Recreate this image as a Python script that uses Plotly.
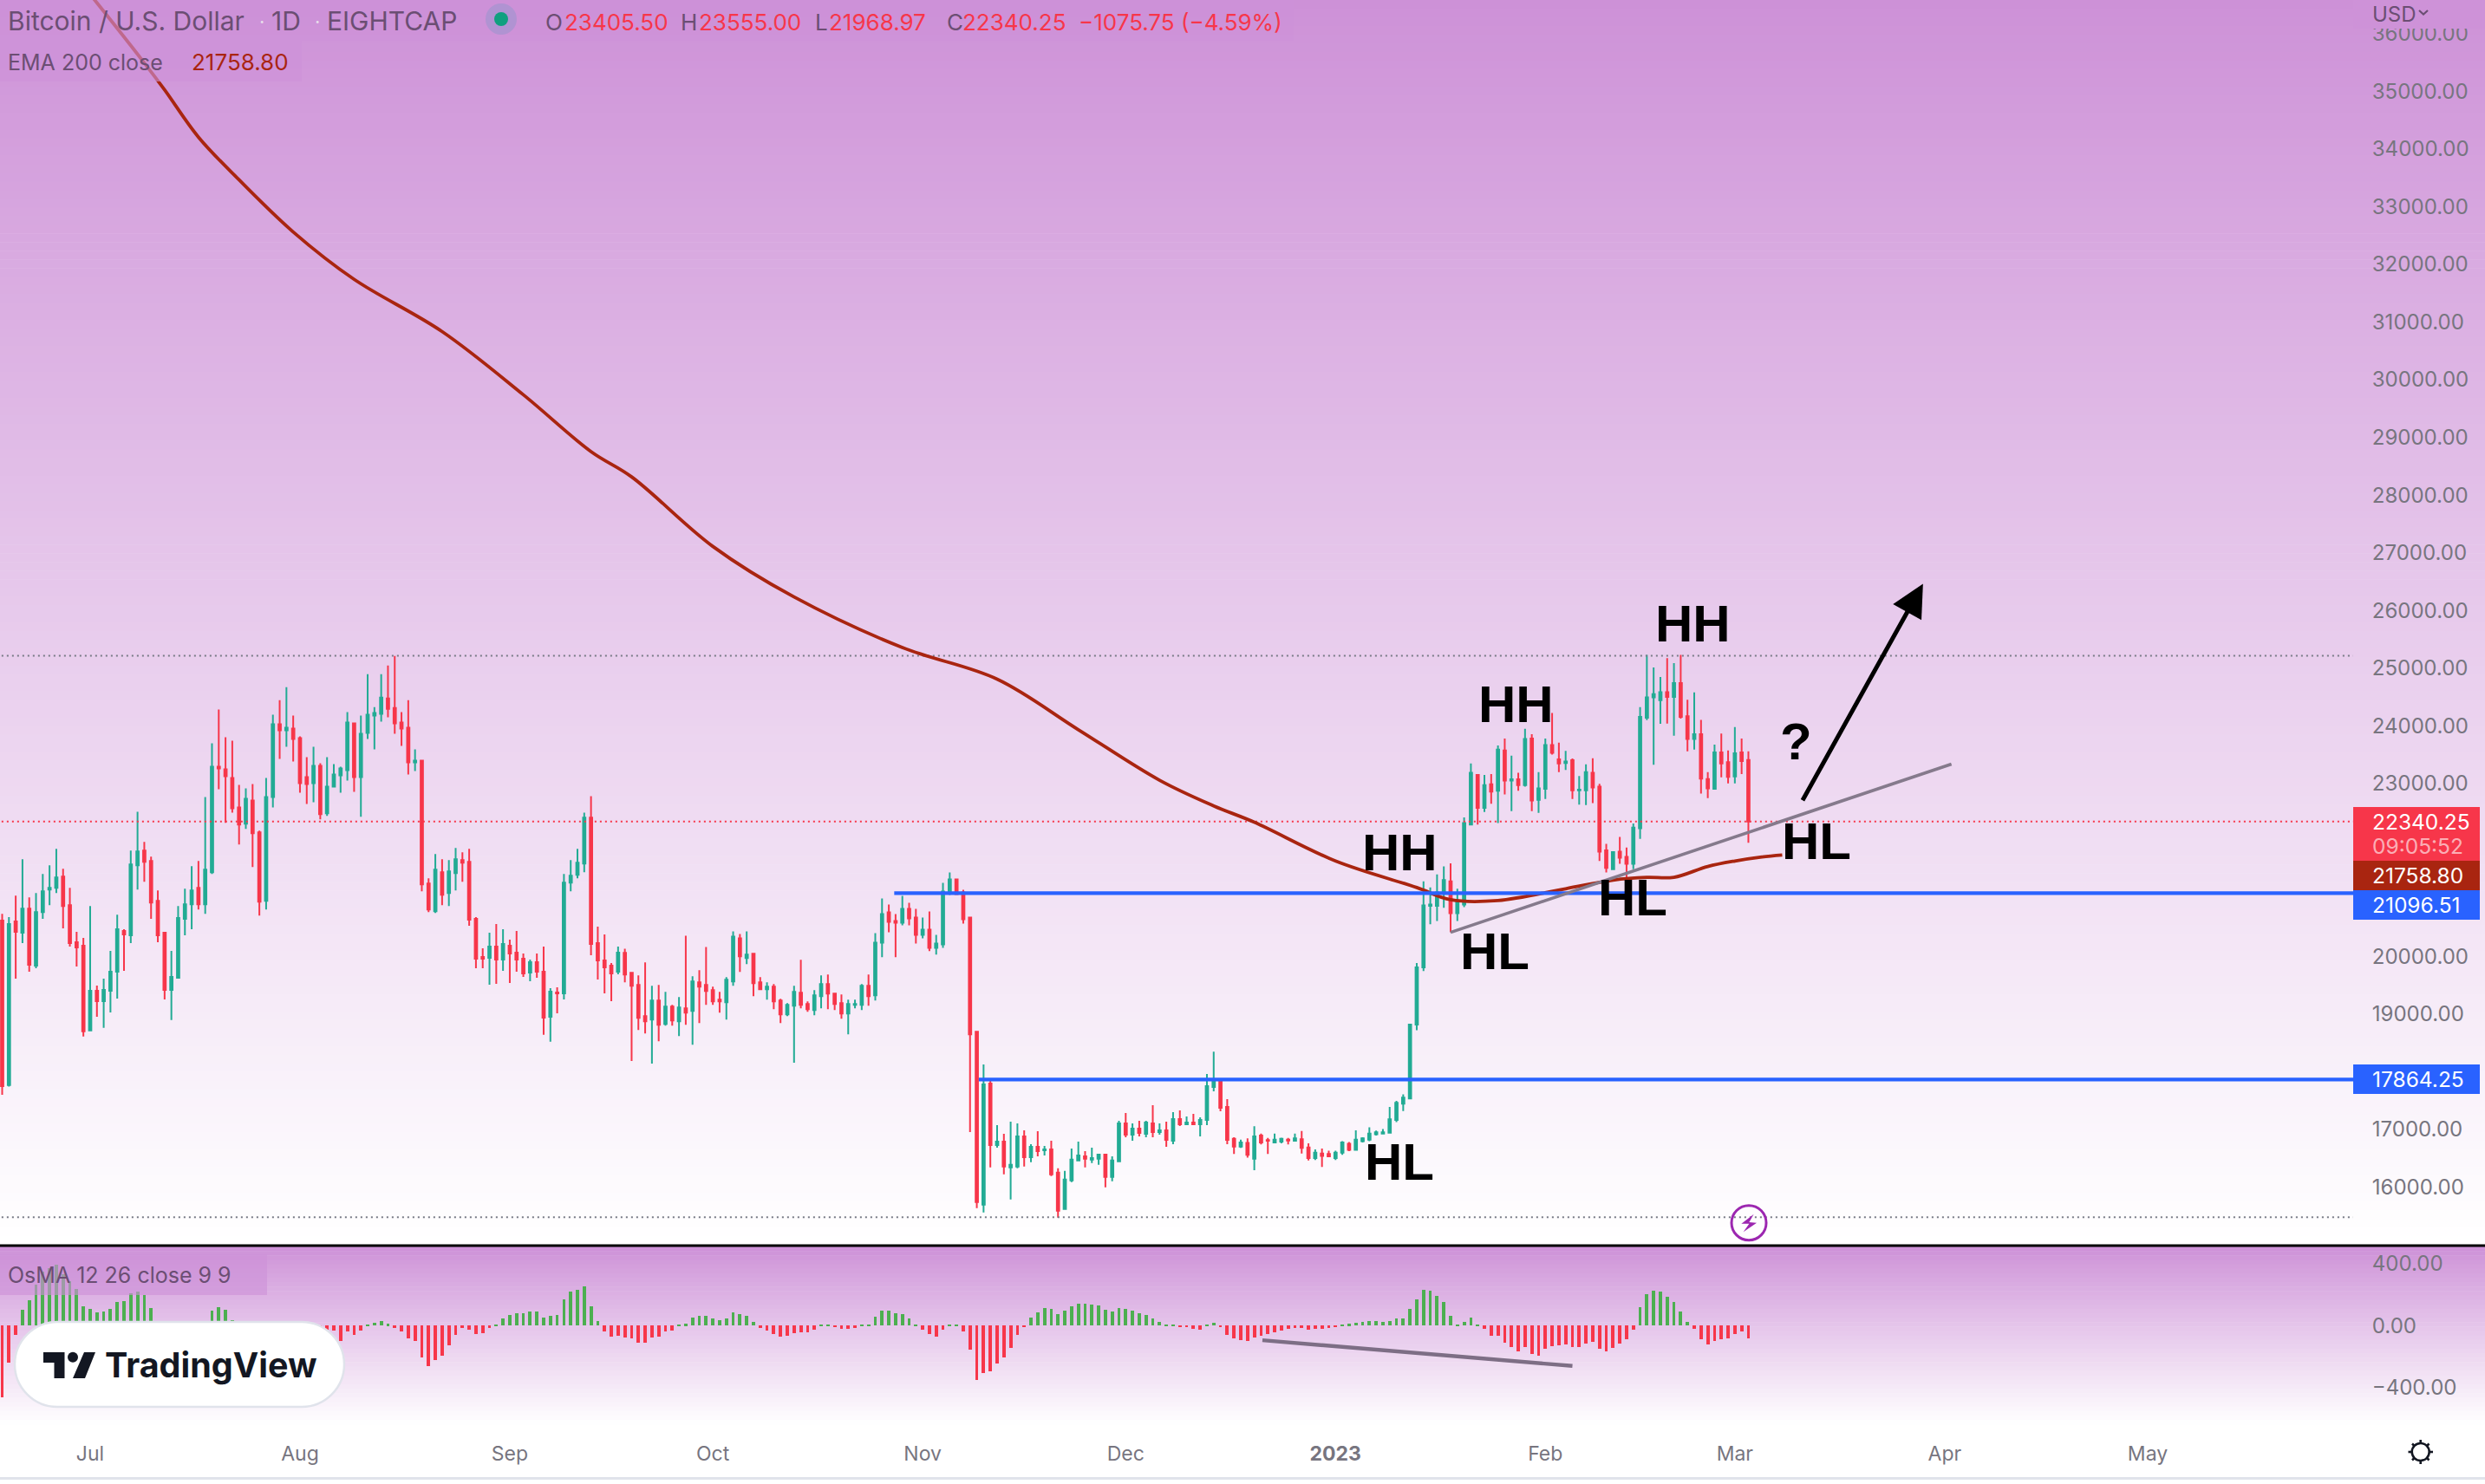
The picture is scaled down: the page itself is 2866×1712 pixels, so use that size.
from datetime import datetime, timedelta
import plotly.graph_objects as go

W, H = 2866, 1712
START = datetime(2022, 7, 1)
FIRST_BAR = datetime(2022, 6, 18)

highs = [
 20740,20680,21055,21685,21025,21100,21430,21580,21865,21520,
 21190,20425,20320,20875,19495,19615,20095,20725,20470,21835,
 22510,21985,21730,21145,20410,20095,20875,21175,21565,21655,
 22765,23695,24280,23800,23740,22975,22915,22990,22180,23095,
 24190,24445,24670,24175,23815,23455,23635,23350,23455,23335,
 23290,24235,24040,24175,24895,24325,24895,25045,25210,24235,
 24445,23590,23410,21355,21775,21685,21670,21880,21805,21865,
 20680,20140,20410,20560,20470,20290,20440,20050,19945,20050,
 20170,19450,19465,21430,21670,21865,22495,22780,20515,20380,
 19885,20170,20135,19715,19670,19895,19490,19505,19385,19160,
 19295,20360,19655,19760,20165,19475,19385,19640,20435,20390,
 20435,20045,19640,19550,19520,19265,19190,19490,19940,19220,
 19415,19670,19685,19370,19340,19250,19250,19520,19685,20405,
 21005,20900,20735,21050,20930,20825,20675,20780,20375,21275,
 21455,21350,21155,20675,18710,18125,17840,17075,16925,17135,
 17105,16985,16745,16970,16715,16805,16325,16280,16670,16790,
 16625,16685,16580,16580,16535,17150,17285,17105,17150,17150,
 17420,17105,17135,17300,17330,17225,17270,17210,17960,18350,
 17855,17525,16865,16823,16844,17056,16929,16851,16929,16858,
 16851,16929,16971,16759,16653,16667,16632,16632,16795,16780,
 16986,16865,17035,16979,17007,17389,17495,17608,18825,19886,
 21301,21195,21422,21563,21613,21174,22412,23346,23162,23148,
 23162,23657,23778,23481,23183,23947,23855,23197,23778,24223,
 23707,23565,23431,23127,23332,23438,22992,21952,21811,22073,
 21889,22306,24322,25228,25009,24846,25171,25086,25228,24450,
 24577,24103,23197,23672,23863,23572,23976,23778,23555]
lows = [
 17600,17745,19615,20230,19735,19795,20650,20890,21100,20485,
 20170,19825,18610,18700,18955,18760,19030,19270,19750,20230,
 21160,21295,20650,20245,19255,18895,19615,20365,20470,20815,
 20740,21430,22900,22315,22495,21940,22210,21550,20710,20815,
 22585,23425,23635,23380,22840,22645,22675,22375,22435,22945,
 22840,23050,22855,22420,23770,23590,24070,24145,23860,23650,
 23155,23215,21130,20770,20755,20890,20875,21145,21295,20530,
 19795,19795,19510,19525,19750,19540,19735,19645,19570,19630,
 18640,18520,19015,19255,21130,21355,21460,20020,19600,19360,
 19225,19690,19550,18185,18725,18665,18140,18530,18800,18800,
 18620,18815,18470,18845,19160,19160,19025,18905,19490,19730,
 19865,19310,19415,19250,19085,18845,18965,18155,19100,19040,
 18980,19100,19085,19070,18920,18650,19100,19070,19145,19235,
 19985,20420,19985,20540,20540,20225,20315,20090,20030,20150,
 21065,21080,20570,16955,15635,15560,16340,16685,16220,15785,
 16325,16355,16430,16535,16550,16190,15470,15605,16085,16445,
 16340,16415,16385,15995,16100,16430,16865,16805,16880,16865,
 16865,16910,16700,16745,17060,17090,17090,16880,17075,17660,
 17315,16745,16575,16681,16512,16292,16738,16575,16759,16759,
 16738,16788,16582,16462,16469,16349,16519,16469,16561,16625,
 16639,16773,16795,16894,16915,16936,17127,17318,17523,18719,
 19745,20559,20615,20842,20417,20615,20856,22285,22285,22504,
 22646,22313,22808,22518,22872,22943,22518,22490,22730,23502,
 23197,23233,22730,22631,22624,22660,21655,21457,21514,21606,
 21372,21514,22037,24096,23325,24032,24039,23827,24124,23558,
 23587,22823,22745,22893,23105,23000,23000,23162,21968.97]
opens = [
 20620,17770,20605,20410,20830,19840,20770,21160,21190,21385,
 20890,20245,20185,18715,19405,19225,19405,19735,20440,20365,
 21580,21835,21655,20965,20410,19420,19630,20650,20905,21190,
 20905,21460,23290,23245,23095,22585,22300,22705,22150,20965,
 22765,24025,23920,23950,23785,23110,23005,23305,22480,22945,
 23140,23230,24040,23110,23875,24175,24205,24475,24310,24055,
 23965,23365,23395,21265,20785,21460,21100,21445,21670,21640,
 20650,19990,19975,20170,19945,20185,20065,19960,19720,19900,
 19735,18955,19375,19360,21280,21415,21610,22405,20230,19930,
 19840,19735,20060,19715,19505,18965,18905,19235,18830,19130,
 18875,19100,19055,19550,19505,19415,19250,19205,19565,20315,
 19970,20045,19550,19430,19475,19235,18995,19145,19370,19175,
 19070,19310,19520,19355,19190,19010,19160,19160,19490,19325,
 20240,20765,20615,20585,20825,20675,20375,20465,20150,20210,
 21095,21335,21110,20675,18695,15695,17795,16730,16790,16340,
 16355,16880,16520,16700,16640,16655,16250,15620,16115,16460,
 16535,16475,16490,16565,16175,16445,17105,16910,17015,16925,
 17105,16955,16985,16805,17180,17090,17120,17090,17165,17735,
 17825,17390,16837,16703,16766,16490,16894,16816,16773,16788,
 16823,16802,16830,16688,16505,16582,16575,16505,16596,16752,
 16646,16795,16823,16915,16929,16943,17163,17446,17537,18818,
 19809,20877,20877,21110,21301,20750,20898,22285,23148,22575,
 22985,22872,23573,23049,23070,22971,23778,22716,22907,23664,
 23417,23353,23403,22879,22879,23183,22943,21839,21514,21818,
 21726,21606,22221,24138,24492,24443,24584,24499,24740,24167,
 23771,23855,23077,22907,23537,23367,23120,23537,23405.5]
closes = [
 17750,20560,20425,20830,19855,20770,21130,21190,21370,20875,
 20230,20155,18700,19405,19225,19420,19735,20470,20380,21595,
 21820,21640,20935,20365,19420,19645,20665,20905,21145,20905,
 21505,23290,23260,23125,22570,22285,22735,22135,20950,22765,
 24025,23920,23965,23770,23005,22990,23305,22465,22945,23155,
 23260,24055,23110,23860,24190,24220,24490,24295,24040,23950,
 23365,23395,21250,20815,21505,21070,21475,21685,21625,20635,
 19960,19960,20170,19945,20215,20050,19945,19705,19900,19735,
 18940,19390,19360,21280,21400,21625,22405,20215,19930,19810,
 19705,20065,19685,19490,18935,18875,19235,18815,19130,18890,
 19115,19025,19565,19475,19400,19220,19220,19595,20345,20000,
 20030,19535,19430,19475,19220,18995,19160,19385,19160,19085,
 19325,19520,19355,19175,19010,19175,19175,19490,19310,20240,
 20735,20600,20585,20825,20660,20375,20465,20150,20225,21125,
 21335,21080,20645,18650,15740,17780,16730,16790,16355,16385,
 16880,16520,16700,16625,16655,16220,15590,16130,16475,16550,
 16490,16505,16565,16175,16460,17105,16910,17015,16940,17120,
 16955,16985,16820,17180,17090,17120,17090,17165,17750,17825,
 17375,16820,16703,16773,16561,16880,16773,16802,16823,16837,
 16809,16844,16681,16505,16596,16540,16533,16596,16773,16646,
 16823,16844,16929,16950,16950,17177,17460,17552,18818,19809,
 20884,20898,21110,21323,20750,20933,22313,23183,22575,22971,
 22858,23587,23049,23070,22971,23771,22702,22914,23664,23530,
 23346,23381,22879,22893,23197,22929,21818,21535,21811,21712,
 21606,22235,24153,24492,24549,24584,24499,24740,24153,23771,
 23855,23084,22914,23537,23346,23113,23523,23389,22340.25]

osma = [
 -466,-240,-62,101,163,263,351,370,392,332,
 285,235,122,107,85,90,107,150,158,207,
 223,197,116,10,-20,-40,-50,-40,-20,5,
 15,94,118,101,32,-5,-15,-25,-25,-30,
 -20,-10,-5,-10,-15,-20,-20,-25,-30,-34,
 -100,-38,-62,-34,8,17,28,11,-15,-38,
 -85,-100,-207,-263,-225,-197,-130,-62,-15,-28,
 -56,-51,-15,9,45,68,79,79,90,90,
 51,62,68,169,220,231,254,124,28,-38,
 -71,-66,-79,-85,-113,-113,-79,-71,-39,-34,
 5,11,51,62,62,45,34,45,85,73,
 62,23,-15,-34,-56,-71,-66,-51,-45,-45,
 -28,4,4,-6,-23,-23,-15,9,9,56,
 96,96,79,73,45,6,-28,-56,-73,-28,
 6,6,-39,-158,-355,-310,-299,-248,-208,-146,
 -62,-11,51,85,113,107,73,96,124,141,
 141,135,130,101,90,113,107,96,79,68,
 45,23,6,6,-6,-11,-23,-28,6,17,
 -11,-62,-85,-96,-101,-79,-68,-56,-45,-34,
 -23,-17,-17,-28,-23,-23,-17,-11,6,11,
 17,23,28,28,23,28,45,45,107,169,
 231,225,192,152,62,6,23,51,6,-23,
 -68,-68,-113,-141,-169,-141,-186,-197,-152,-135,
 -130,-124,-141,-141,-118,-107,-152,-169,-146,-118,
 -90,-28,118,203,225,220,186,152,90,23,
 -23,-90,-124,-101,-90,-84,-56,-39,-84]

ema_days = [-2,1,8,11,16,22,30,39,52,64,74,80,92,104,120,134,146,158,166,172,
            184,196,201,208,218,225,230,234,239,243,247,250]
ema_values = [36970,36536,35494,35027,34207,33467,32563,31741,30836,29740,28754,
              28316,27110,26233,25356,24808,23932,23055,22610,22327,21655,21195,
              20983,20969,21174,21323,21370,21372,21560,21655,21725,21759]

# 22000, 21000 and 18000 sit behind the price labels in the reference
price_ticks = [16000,17000,19000,20000,23000,24000,25000,26000,27000,28000,29000,
               30000,31000,32000,33000,34000,35000,36000]
osc_ticks = [400, 0, -400]
osc_tick_labels = ["400.00", "0.00", "\u2212400.00"]
month_ticks = ["2022-07-01","2022-08-01","2022-09-01","2022-10-01","2022-11-01",
               "2022-12-01","2023-01-01","2023-02-01","2023-03-01","2023-04-01","2023-05-01"]
month_labels = ["Jul","Aug","Sep","Oct","Nov","Dec","<b>2023</b>","Feb","Mar","Apr","May"]

last_close = 22340.25
last_ema = 21758.80
resistance = 21096.51
support = 17864.25
range_high = 25212
range_low = 15476

RED, GREEN = "#F7364A", "#22AB94"
OSC_GREEN = "#4CAF50"
BLUE, EMA = "#2962FF", "#A92510"
GREY, TOP = "#787B86", (205, 144, 215)
AXIS_TXT = "#77757F"
HEAD = "#6B4E73"
FONT = "Inter"
AX_R = 2714
PANE1_B, PANE2_T, PANE2_B = 1436, 1438, 1655


def d(n):
    return START + timedelta(days=n)


def px(x):
    return x / W


def py(y):
    return 1 - y / H


dates = [FIRST_BAR + timedelta(days=i) for i in range(len(opens))]
xr = [d(-13.32), d(334.36)]

fig = go.Figure()
fig.add_trace(go.Candlestick(
    x=dates, open=opens, high=highs, low=lows, close=closes,
    increasing=dict(line=dict(color=GREEN, width=2), fillcolor=GREEN),
    decreasing=dict(line=dict(color=RED, width=2), fillcolor=RED),
    whiskerwidth=0, showlegend=False, xaxis="x", yaxis="y"))


def line(xs, ys, color, width, dash="solid", ya="y", xa="x", shape="linear"):
    fig.add_trace(go.Scatter(x=xs, y=ys, mode="lines", showlegend=False, hoverinfo="skip",
                             line=dict(color=color, width=width, dash=dash, shape=shape), xaxis=xa, yaxis=ya))


line([d(-20), d(340)], [range_high] * 2, GREY, 2, "2px,4px")
line([d(-20), d(340)], [range_low] * 2, GREY, 2, "2px,4px")
line([d(-20), d(340)], [last_close] * 2, RED, 2, "2px,4px")
line([d(n) for n in ema_days], ema_values, EMA, 3.8, shape="spline")
line([d(118.8), d(340)], [resistance] * 2, BLUE, 4.2)
line([d(131.3), d(340)], [support] * 2, BLUE, 4.2)
line([d(201), d(275)], [20417, 23334], "#857A8C", 3.6)

fig.add_trace(go.Bar(x=dates, y=osma, width=3.8 / 7.806 * 86400000,
                     marker=dict(color=[OSC_GREEN if v >= 0 else RED for v in osma], line=dict(width=0)),
                     showlegend=False, xaxis="x2", yaxis="y2"))
line([d(173.2), d(219)], [-96, -263], "#7D6E85", 4.4, ya="y2", xa="x2")

shapes = []
# gradient backgrounds
for (y0, y1, n) in [(0, PANE1_B, 144), (PANE2_T, 1643, 40)]:
    for i in range(n):
        t = ((i + 0.5) / n) ** 0.92
        c = [round(TOP[k] + (255 - TOP[k]) * t) for k in range(3)]
        a, b = y0 + (y1 - y0) * i / n, y0 + (y1 - y0) * (i + 1) / n + 0.6
        shapes.append(dict(type="rect", xref="paper", yref="paper", layer="below",
                           x0=0, x1=1, y0=py(a), y1=py(b), line=dict(width=0),
                           fillcolor=f"rgb({c[0]},{c[1]},{c[2]})"))


def rect(x0, y0, x1, y1, fill, lw=0, lc=None):
    shapes.append(dict(type="rect", xref="paper", yref="paper", layer="above",
                       x0=px(x0), x1=px(x1), y0=py(y0), y1=py(y1),
                       fillcolor=fill, line=dict(width=lw, color=lc)))


def path(points, fill=None, lw=0, lc=None, close=True):
    s = "M " + " L ".join(f"{px(a):.6f},{py(b):.6f}" for a, b in points) + (" Z" if close else "")
    shapes.append(dict(type="path", xref="paper", yref="paper", layer="above", path=s,
                       fillcolor=fill, line=dict(width=lw, color=lc)))


def circle(cx, cy, r, fill=None, lw=0, lc=None):
    shapes.append(dict(type="circle", xref="paper", yref="paper", layer="above",
                       x0=px(cx - r), x1=px(cx + r), y0=py(cy - r), y1=py(cy + r),
                       fillcolor=fill, line=dict(width=lw, color=lc)))


def pill(x0, y0, x1, y1, r, fill, lw, lc):
    k = 0.45 * r
    P = lambda a, b: f"{px(a):.6f},{py(b):.6f}"
    s = (f"M {P(x0 + r, y0)} L {P(x1 - r, y0)} C {P(x1 - k, y0)} {P(x1, y0 + k)} {P(x1, y0 + r)} "
         f"L {P(x1, y1 - r)} C {P(x1, y1 - k)} {P(x1 - k, y1)} {P(x1 - r, y1)} "
         f"L {P(x0 + r, y1)} C {P(x0 + k, y1)} {P(x0, y1 - k)} {P(x0, y1 - r)} "
         f"L {P(x0, y0 + r)} C {P(x0, y0 + k)} {P(x0 + k, y0)} {P(x0 + r, y0)} Z")
    shapes.append(dict(type="path", xref="paper", yref="paper", layer="above", path=s,
                       fillcolor=fill, line=dict(width=lw, color=lc)))


# pane separators
rect(0, 1435.5, W, 1438.5, "#000000")
rect(0, 1704, W, 1707, "#E0E3EB")
# legend patches
HP = "rgba(205,146,216,0.62)"
rect(0, 0, 1492, 47, HP)
rect(0, 47, 348, 94, HP)
rect(0, 1447, 308, 1494, "rgba(205,146,216,0.62)")
# USD cover
rect(AX_R, 0, W, 33, "rgb(206,146,216)")
# price labels
rect(AX_R, 931, 2860, 993, RED)
rect(AX_R, 993, 2860, 1027, "#A92510")
rect(AX_R, 1027, 2860, 1061, BLUE)
rect(AX_R, 1228, 2860, 1262, BLUE)
# status dot
circle(578, 22, 18, "rgba(130,150,200,0.38)")
circle(578, 22, 8, "#0FA07F")
# bolt
circle(2017, 1410.7, 20, "rgba(255,255,255,0)", 3, "#9C27B0")
path([(1940 + a / 3, 1380 + b / 3) for a, b in
      [(248, 62), (205, 95), (232, 95), (212, 124), (258, 92), (232, 90)]], "#9C27B0")
# logo pill
pill(17, 1525, 397, 1623, 49, "#FFFFFF", 2.5, "#E0E3EB")
path([(50, 1560), (74.5, 1560), (74.5, 1590), (62.5, 1590), (62.5, 1572), (50, 1572)], "#131722")
circle(84, 1565.7, 6, "#131722")
path([(97, 1560), (110, 1560), (98, 1590), (84, 1590)], "#131722")
# sun icon
circle(2791.7, 1675, 10, "rgba(255,255,255,0)", 2.6, "#131722")
for (a, b, c, e) in [(2791.7, 1661, 2791.7, 1665), (2791.7, 1685, 2791.7, 1689),
                     (2777.5, 1675, 2781.7, 1675), (2801.7, 1675, 2806, 1675),
                     (2782, 1665.5, 2784.6, 1668), (2799, 1682, 2801.5, 1684.5),
                     (2801.5, 1665.5, 2799, 1668), (2784.6, 1682, 2782, 1684.5)]:
    path([(a, b), (c, e)], None, 2.6, "#131722", close=False)
# USD chevron
path([(2790, 12), (2795, 16.5), (2800, 12)], None, 2.2, HEAD, close=False)

ann = []


def text(x, y, s, size, color, family=FONT, anchor="left"):
    ann.append(dict(xref="paper", yref="paper", x=px(x), y=py(y), text=s, showarrow=False,
                    xanchor=anchor, yanchor="middle", borderpad=0,
                    font=dict(size=size, color=color, family=family)))


# header
text(8, 24, "Bitcoin / U.S. Dollar", 30, HEAD)
text(312, 24, "1D", 30, HEAD)
text(376, 24, "EIGHTCAP", 30, HEAD)
text(298, 25, "\u00b7", 22, "#E8DDEB")
text(362, 25, "\u00b7", 22, "#E8DDEB")
for x, s, c in [(628, "O", HEAD), (650, "23405.50", RED), (784, "H", HEAD), (805, "23555.00", RED),
                (939, "L", HEAD), (955, "21968.97", RED), (1091, "C", HEAD), (1109, "22340.25", RED),
                (1243, "\u22121075.75 (\u22124.59%)", RED)]:
    text(x, 25, s, 26, c)
text(8, 72, "EMA 200 close", 25, HEAD)
text(220, 72, "21758.80", 26, EMA)
text(8, 1471, "OsMA 12 26 close 9 9", 25, HEAD)
text(2735, 17, "USD", 24, HEAD)
# price labels
text(2735, 948, "22340.25", 24.5, "#FFFFFF")
text(2735, 976, "09:05:52", 24.5, "rgba(255,255,255,0.62)")
text(2735, 1010, "21758.80", 24.5, "#FFFFFF")
text(2735, 1044, "21096.51", 24.5, "#FFFFFF")
text(2735, 1245, "17864.25", 24.5, "#FFFFFF")
# logo text
text(120, 1575, "<b>TradingView</b>", 39.5, "#131722")
# drawn labels
BIG = "Liberation Sans"
for cx, cy, s in [(1615, 983, "HH"), (1748, 812, "HH"), (1952, 720, "HH"),
                  (1724, 1097, "HL"), (1883, 1035, "HL"), (2095, 971, "HL"),
                  (1614, 1340, "HL"), (2071, 855, "?")]:
    text(cx, cy, f"<b>{s}</b>", 60, "#000000", BIG, "center")
# arrow
ann.append(dict(xref="x", yref="y", axref="x", ayref="y", x=d(270.8), y=26463, ax=d(252.9), ay=22685,
                text="", showarrow=True, arrowhead=2, arrowsize=1.5, arrowwidth=5,
                arrowcolor="#000000", standoff=0, startstandoff=0))

tickfont = dict(size=24, color=AXIS_TXT, family=FONT)
fig.update_layout(
    width=W, height=H, margin=dict(l=0, r=0, t=0, b=0), autosize=False,
    paper_bgcolor="#FFFFFF", plot_bgcolor="rgba(0,0,0,0)", showlegend=False,
    boxgap=0.5, bargap=0, shapes=shapes, annotations=ann, hovermode=False,
    xaxis=dict(domain=[0, AX_R / W], anchor="y", type="date", range=xr, showgrid=False,
               showticklabels=False, ticks="", zeroline=False, rangeslider=dict(visible=False)),
    xaxis2=dict(domain=[0, AX_R / W], anchor="y2", type="date", range=xr, showgrid=False,
                tickmode="array", tickvals=month_ticks, ticktext=month_labels, ticks="outside",
                ticklen=1, tickcolor="rgba(0,0,0,0)", tickfont=dict(size=23, color=AXIS_TXT, family=FONT),
                zeroline=False),
    yaxis=dict(domain=[1 - PANE1_B / H, 1], anchor="x", side="right",
               range=[15000, 36585], showgrid=False, zeroline=False,
               tickmode="array", tickvals=price_ticks,
               ticktext=[f"{v:.2f}" for v in price_ticks], ticks="outside", ticklen=16,
               tickcolor="rgba(0,0,0,0)", tickfont=tickfont),
    yaxis2=dict(domain=[1 - PANE2_B / H, 1 - PANE2_T / H], anchor="x2", side="right",
                range=[-709, 513], showgrid=False, zeroline=False,
                tickmode="array", tickvals=osc_ticks, ticktext=osc_tick_labels,
                ticks="outside", ticklen=16, tickcolor="rgba(0,0,0,0)", tickfont=tickfont),
)

fig.write_html("out.html", config={"displayModeBar": False},
               post_script="document.body.style.margin='0';")
